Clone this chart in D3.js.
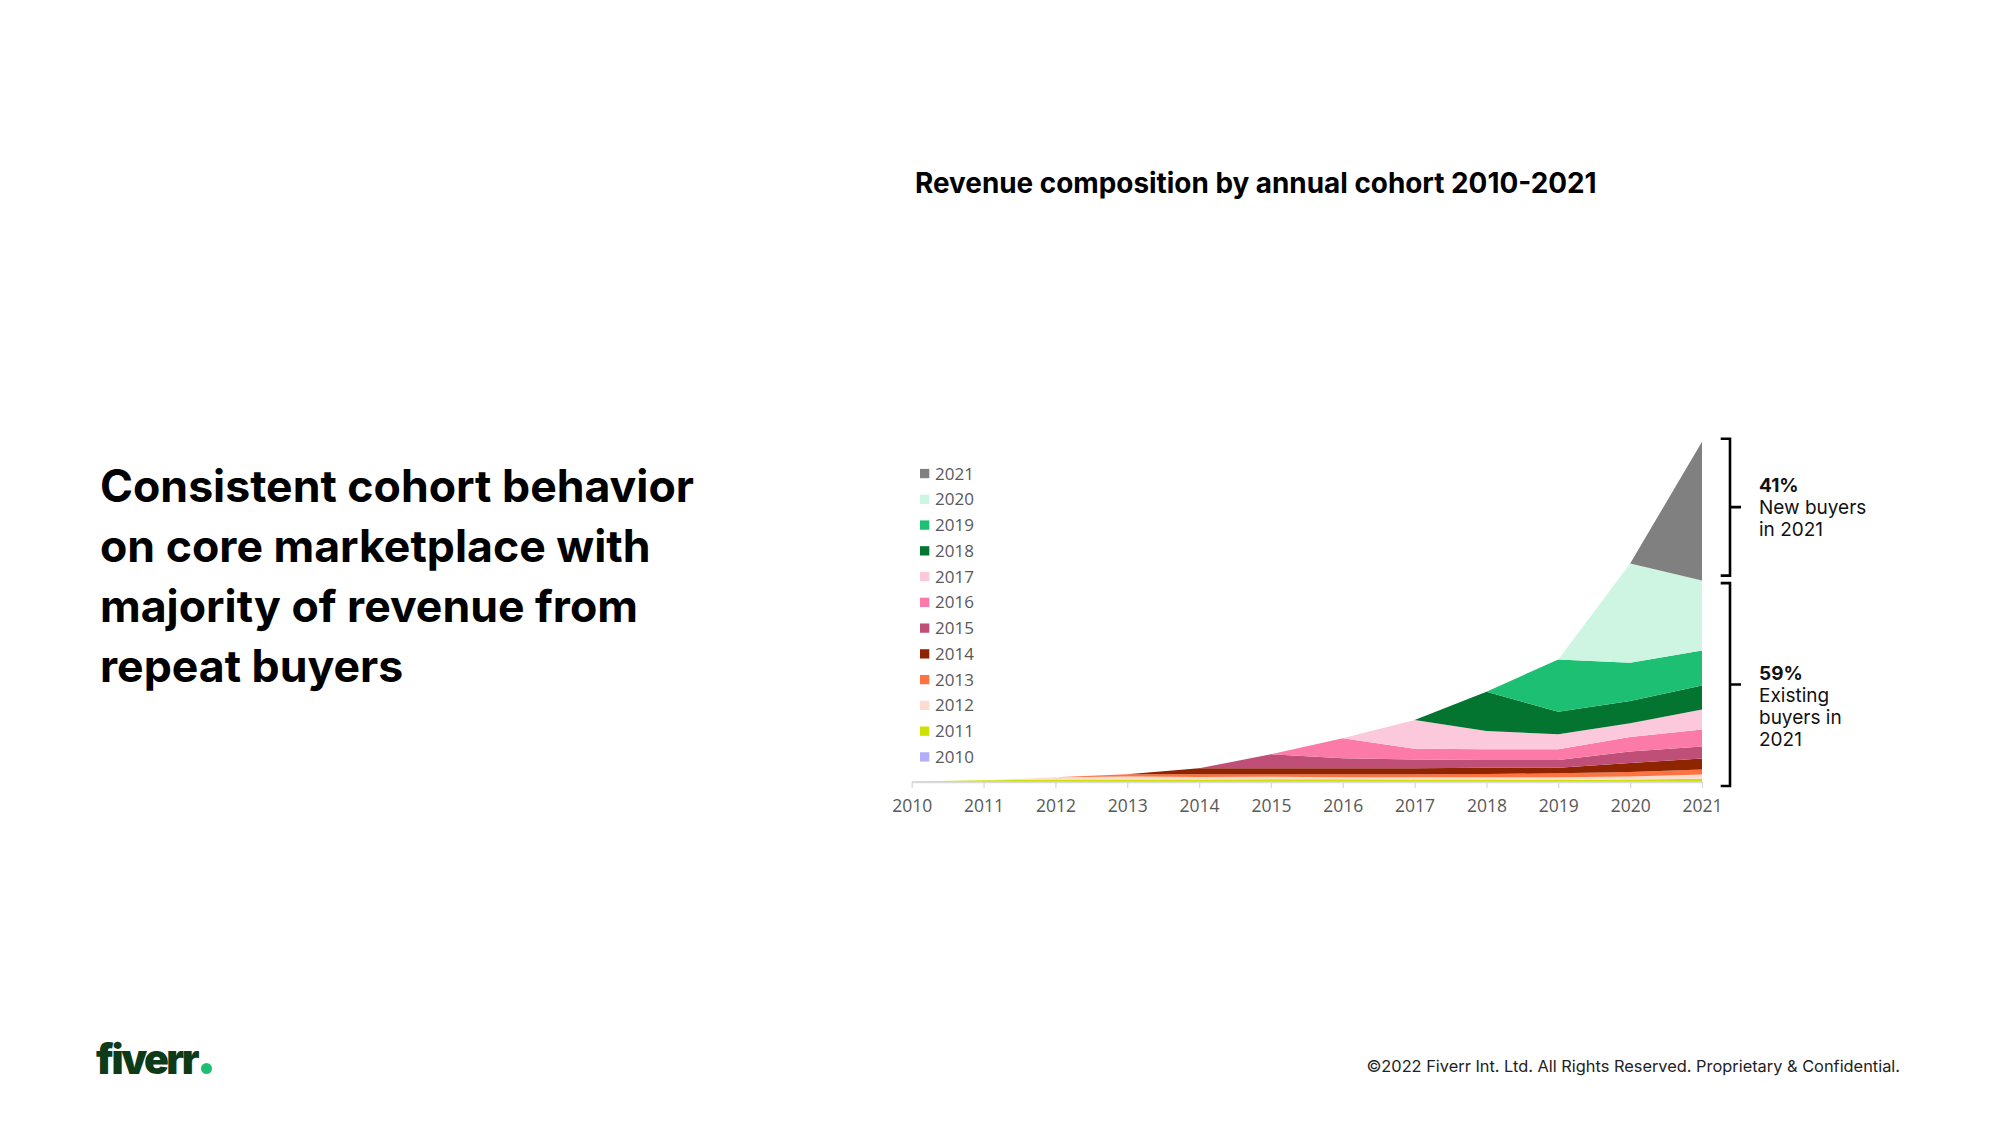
<!DOCTYPE html>
<html>
<head>
<meta charset="utf-8">
<script src="https://cdn.jsdelivr.net/npm/d3@7"></script>
<style>
  html, body { margin: 0; padding: 0; background: #ffffff; }
  svg { display: block; }
</style>
</head>
<body>
<svg id="chart" width="2000" height="1125"></svg>
<script>
// ---------------- DATA ----------------
const years = [2010, 2011, 2012, 2013, 2014, 2015, 2016, 2017, 2018, 2019, 2020, 2021];
const cohorts = ["2010", "2011", "2012", "2013", "2014", "2015", "2016", "2017", "2018", "2019", "2020", "2021"];
const cohortColors = ["#b2aef8", "#cde000", "#fcdcd0", "#fe7440", "#8f2400", "#c04f77",
                      "#fb7aa8", "#fcc9dc", "#047530", "#1dbf73", "#cdf5e2", "#808080"];

// revenue contribution of each cohort per year (relative units)
const c2010 = [0.4, 0.3, 0.3, 0.3, 0.3, 0.3, 0.3, 0.3, 0.3, 0.3, 0.3, 0.3];
const c2011 = [0, 1.4, 2.2, 2.2, 2.2, 2.4, 2.4, 2.2, 2.2, 1.7, 2.2, 3.0];
const c2012 = [0, 0, 2.2, 3.0, 2.5, 2.6, 2.0, 2.2, 2.2, 2.7, 3.0, 4.3];
const c2013 = [0, 0, 0, 2.2, 2.7, 2.4, 3.0, 3.0, 3.3, 4.0, 4.5, 5.0];
const c2014 = [0, 0, 0, 0, 6.0, 6.0, 6.0, 6.0, 6.3, 5.6, 9.0, 11.0];
const c2015 = [0, 0, 0, 0, 0, 14.0, 10.0, 8.7, 7.7, 7.7, 11.5, 12.0];
const c2016 = [0, 0, 0, 0, 0, 0, 20.0, 11.0, 10.7, 10.7, 14.5, 17.0];
const c2017 = [0, 0, 0, 0, 0, 0, 0, 28.6, 18.3, 15.0, 13.7, 20.0];
const c2018 = [0, 0, 0, 0, 0, 0, 0, 0, 39.3, 22.6, 22.3, 24.0];
const c2019 = [0, 0, 0, 0, 0, 0, 0, 0, 0, 52.4, 38.3, 35.0];
const c2020 = [0, 0, 0, 0, 0, 0, 0, 0, 0, 0, 99.4, 70.0];
const c2021 = [0, 0, 0, 0, 0, 0, 0, 0, 0, 0, 0, 139.0];
const cohortValues = [c2010, c2011, c2012, c2013, c2014, c2015, c2016, c2017, c2018, c2019, c2020, c2021];

const chartTitle = "Revenue composition by annual cohort 2010-2021";
const headlineLines = ["Consistent cohort behavior", "on core marketplace with", "majority of revenue from", "repeat buyers"];
const newShareLabel = ["41%", "New buyers", "in 2021"];
const existingShareLabel = ["59%", "Existing", "buyers in", "2021"];
const footerText = "\u00A92022 Fiverr Int. Ltd. All Rights Reserved. Proprietary & Confidential.";

// ---------------- BUILD ----------------
const svg = d3.select("#chart");
const table = years.map((yr, i) => {
  const row = { year: yr };
  cohorts.forEach((c, k) => { row[c] = cohortValues[k][i]; });
  return row;
});

const stack = d3.stack().keys(cohorts);
const series = stack(table);
const total = d3.max(series[series.length - 1], d => d[1]);

const x = d3.scaleLinear().domain([2010, 2021]).range([911.7, 1702]);
const y = d3.scaleLinear().domain([0, total]).range([782, 441.7]);
const color = d3.scaleOrdinal().domain(cohorts).range(cohortColors);

const area = d3.area()
  .x(d => x(d.data.year))
  .y0(d => y(d[0]))
  .y1(d => y(d[1]))
  .curve(d3.curveLinear);

svg.append("g").selectAll("path")
  .data(series)
  .join("path")
  .attr("d", area)
  .attr("fill", d => color(d.key))
  .attr("stroke", "none");

// axis
const axis = svg.append("g")
  .attr("transform", `translate(0,${y(0)})`)
  .call(d3.axisBottom(x).tickValues(years).tickFormat(d3.format("d")).tickSizeInner(6).tickSizeOuter(0).tickPadding(12));
axis.select(".domain").attr("stroke", "#d9d9d9").attr("stroke-width", 1.3);
axis.selectAll(".tick line").attr("stroke", "#d9d9d9").attr("stroke-width", 1.3);
axis.selectAll(".tick text")
  .attr("fill", "#595959")
  .style("font-family", "'Open Sans', 'Noto Sans', sans-serif")
  .style("font-size", "17.5px");

// legend (reverse order, 2021 on top)
const legendItems = cohorts.slice().reverse();
const legend = svg.append("g").attr("transform", "translate(920,473.5)");
const li = legend.selectAll("g").data(legendItems).join("g")
  .attr("transform", (d, i) => `translate(0,${i * 25.76})`);
li.append("rect").attr("x", 0).attr("y", -4.6).attr("width", 9.3).attr("height", 9.3).attr("fill", d => color(d));
li.append("text").attr("x", 15).attr("y", 0).attr("dy", "0.36em")
  .attr("fill", "#595959")
  .style("font-family", "'Open Sans', 'Noto Sans', sans-serif")
  .style("font-size", "17px")
  .text(d => d);

// brackets
const yTop = y(total);
const existingTotal = total - c2021[c2021.length - 1];
const yMid = y(existingTotal);
const bx = 1730, bl = 1720.7, br = 1741;
const b1top = yTop - 3, b1bot = yMid - 5;
const b2top = yMid + 2.5, b2bot = y(0) + 4;
const brk = svg.append("g").attr("fill", "none").attr("stroke", "#000").attr("stroke-width", 2.6);
brk.append("path").attr("d", `M${bl},${b1top}H${bx}V${b1bot}H${bl}M${bx},${(b1top + b1bot) / 2}H${br}`);
brk.append("path").attr("d", `M${bl},${b2top}H${bx}V${b2bot}H${bl}M${bx},${(b2top + b2bot) / 2}H${br}`);

function labelBlock(lines, cx, centerY) {
  const lh = 22;
  const g = svg.append("g");
  const startY = centerY - (lines.length - 1) * lh / 2;
  lines.forEach((t, i) => {
    g.append("text")
      .attr("x", cx).attr("y", startY + i * lh).attr("dy", "0.36em")
      .attr("fill", "#111")
      .style("font-family", "Inter, 'Noto Sans', sans-serif")
      .style("font-size", "19px")
      .style("font-weight", i === 0 ? 700 : 400)
      .text(t);
  });
}
labelBlock(newShareLabel, 1759, (b1top + b1bot) / 2 + 0);
labelBlock(existingShareLabel, 1759, (b2top + b2bot) / 2 + 22);

// fit helper
function fitWidth(sel, target) {
  const w = sel.node().getComputedTextLength();
  const fs = parseFloat(sel.style("font-size"));
  sel.style("font-size", (fs * target / w) + "px");
}

// chart title
const title = svg.append("text")
  .attr("x", 915).attr("y", 193)
  .attr("fill", "#000")
  .style("font-family", "Inter, 'Noto Sans', sans-serif")
  .style("font-weight", 700)
  .style("font-size", "27px")
  .text(chartTitle);
fitWidth(title, 682);

// headline
const hl = svg.append("g");
const hlTexts = hl.selectAll("text").data(headlineLines).join("text")
  .attr("x", 100)
  .attr("y", (d, i) => 502 + i * 60)
  .attr("fill", "#000")
  .style("font-family", "Inter, 'Noto Sans', sans-serif")
  .style("font-weight", 700)
  .style("font-size", "45px")
  .text(d => d);
{
  const first = d3.select(hlTexts.nodes()[0]);
  const w = first.node().getComputedTextLength();
  const fs = 45 * 594 / w;
  hlTexts.style("font-size", fs + "px");
}

// footer
const foot = svg.append("text")
  .attr("x", 1900).attr("y", 1072)
  .attr("text-anchor", "end")
  .attr("fill", "#222")
  .style("font-family", "Inter, 'Noto Sans', sans-serif")
  .style("font-size", "15px")
  .text(footerText);
fitWidth(foot, 534);

// logo
const logo = svg.append("text")
  .attr("x", 96).attr("y", 1074)
  .attr("fill", "#0d3b1a")
  .style("font-family", "Inter, 'Noto Sans', sans-serif")
  .style("font-weight", 900)
  .style("font-size", "44px")
  .style("letter-spacing", "-2.5px")
  .text("fiverr");
fitWidth(logo, 102);
svg.append("circle").attr("cx", 206.5).attr("cy", 1068.5).attr("r", 5.5).attr("fill", "#1dbf73");
</script>
</body>
</html>
